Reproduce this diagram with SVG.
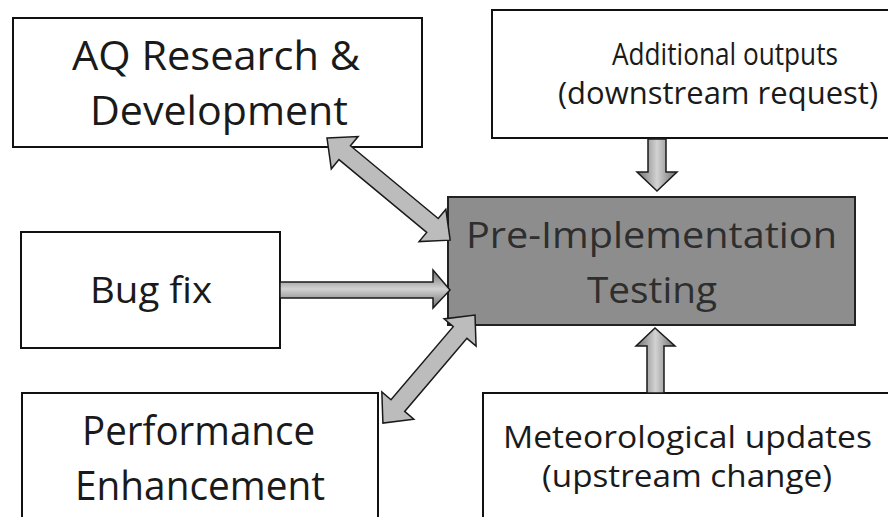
<svg xmlns="http://www.w3.org/2000/svg" width="888" height="517" viewBox="0 0 888 517">
  <style>
    .box { fill: #ffffff; stroke: #111111; stroke-width: 2; }
    .core { fill: #8d8d8d; stroke: #222222; stroke-width: 2; }
    .lbl { font-family: "Open Sans", "Noto Sans", "Liberation Sans", sans-serif; fill: #1a1a1a; }
    .big { font-size: 41px; }
    .mid { font-size: 37px; }
    .sml { font-size: 31px; }
    .corelbl { fill: #2e2e2e; }
    .arr { stroke: #1a1a1a; stroke-width: 1.5; stroke-linejoin: miter; }
    .diag { fill: #bcbcbc; }
  </style>
  <defs>
    <linearGradient id="gv" x1="0" y1="0" x2="1" y2="0">
      <stop offset="0" stop-color="#6e6e6e"/>
      <stop offset="0.5" stop-color="#d2d2d2"/>
      <stop offset="1" stop-color="#6e6e6e"/>
    </linearGradient>
    <linearGradient id="gh" x1="0" y1="0" x2="0" y2="1">
      <stop offset="0" stop-color="#6e6e6e"/>
      <stop offset="0.5" stop-color="#d2d2d2"/>
      <stop offset="1" stop-color="#6e6e6e"/>
    </linearGradient>
  </defs>
  <rect width="888" height="517" fill="#ffffff"/>

  <g id="aq">
    <rect class="box" x="13" y="18" width="409" height="129"/>
    <text class="lbl big" x="72" y="70" textLength="288" lengthAdjust="spacingAndGlyphs">AQ Research &amp;</text>
    <text class="lbl big" x="90" y="125" textLength="258" lengthAdjust="spacingAndGlyphs">Development</text>
  </g>

  <g id="additional">
    <rect class="box" x="492" y="10" width="398" height="128"/>
    <text class="lbl sml" x="612" y="65" textLength="226" lengthAdjust="spacingAndGlyphs">Additional outputs</text>
    <text class="lbl sml" x="718" y="104" font-size="29" text-anchor="middle">(downstream request)</text>
  </g>

  <g id="bugfix">
    <rect class="box" x="21" y="232" width="259" height="116"/>
    <text class="lbl mid" x="90" y="303" textLength="122" lengthAdjust="spacingAndGlyphs">Bug fix</text>
  </g>

  <g id="testing">
    <rect class="core" x="448" y="197" width="407" height="128"/>
    <text class="lbl mid corelbl" x="466" y="248" textLength="371" lengthAdjust="spacingAndGlyphs">Pre-Implementation</text>
    <text class="lbl mid corelbl" x="587" y="303" textLength="130" lengthAdjust="spacingAndGlyphs">Testing</text>
  </g>

  <g id="performance">
    <rect class="box" x="22" y="393" width="356" height="126"/>
    <text class="lbl big" x="82" y="445" textLength="233" lengthAdjust="spacingAndGlyphs">Performance</text>
    <text class="lbl big" x="75" y="500" textLength="250" lengthAdjust="spacingAndGlyphs">Enhancement</text>
  </g>

  <g id="meteo">
    <rect class="box" x="483" y="393" width="407" height="126"/>
    <text class="lbl sml" x="503" y="448" textLength="369" lengthAdjust="spacingAndGlyphs">Meteorological updates</text>
    <text class="lbl sml" x="542" y="487" textLength="290" lengthAdjust="spacingAndGlyphs">(upstream change)</text>
  </g>

  <g id="connectors">
    <path class="arr" fill="url(#gv)" d="M648,139 L666,139 L666,172 L677,172 L657,191 L637,172 L648,172 Z"/>
    <path class="arr" fill="url(#gv)" d="M647,393 L664,393 L664,346 L675,346 L655,328 L636,346 L647,346 Z"/>
    <path class="arr" fill="url(#gh)" d="M280,282 L433,282 L433,270 L450,290 L433,308 L433,298 L280,298 Z"/>
    <path class="arr diag" transform="translate(327,138) rotate(39.67)" d="M0,0 L23,-21 L23,-9 L137,-9 L137,-21 L160,0 L137,21 L137,9 L23,9 L23,21 Z"/>
    <path class="arr diag" transform="translate(475,315) rotate(130.43)" d="M0,0 L23,-21 L23,-9 L119,-9 L119,-21 L142,0 L119,21 L119,9 L23,9 L23,21 Z"/>
  </g>
</svg>
